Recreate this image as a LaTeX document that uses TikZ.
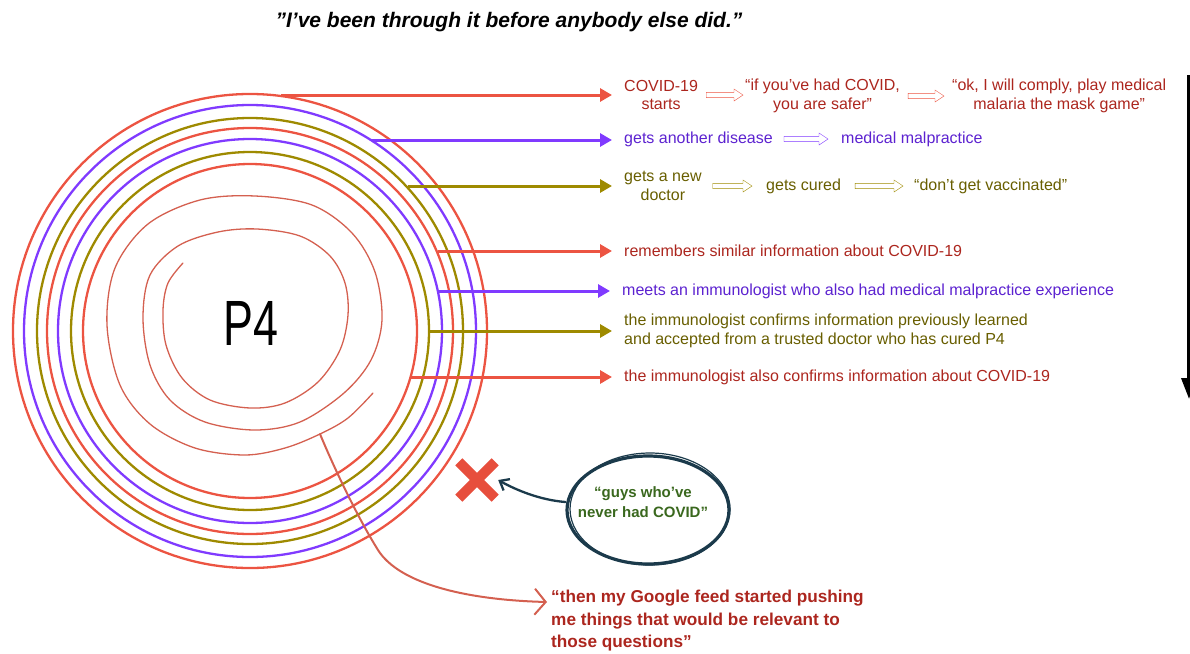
\documentclass[tikz,border=0pt]{standalone}
\usepackage{fontspec}
\setmainfont{Liberation Sans}
\usetikzlibrary{arrows.meta,calc,shapes.geometric}

\definecolor{ringred}{RGB}{236,84,66}
\definecolor{ringpurple}{RGB}{128,58,255}
\definecolor{ringolive}{RGB}{158,138,0}
\definecolor{txtred}{RGB}{172,38,30}
\definecolor{txtpurple}{RGB}{92,34,208}
\definecolor{txtolive}{RGB}{104,94,0}
\definecolor{spiralred}{RGB}{212,96,80}
\definecolor{navy}{RGB}{27,58,75}
\definecolor{leaf}{RGB}{58,104,30}
\definecolor{crossred}{RGB}{231,78,60}

\begin{document}
\begin{tikzpicture}[x=1pt,y=-1pt,
  ring/.style={line width=2.3pt},
  feed/.style={line width=3pt, -{Triangle[length=12pt,width=13pt]}, shorten >=12pt},
  rowtxt/.style={inner sep=0pt, font=\fontsize{16}{18.5}\selectfont},
  hollow/.style 2 args={line width=1.6pt, to path={let \p1=(\tikztostart), \p2=(\tikztotarget) in
     (\x1+#1,\y1+2.6pt) -- (\x2-#2-9pt,\y1+2.6pt) -- (\x2-#2-9pt,\y1+6pt) -- (\x2-#2,\y1)
     -- (\x2-#2-9pt,\y1-6pt) -- (\x2-#2-9pt,\y1-2.6pt) -- (\x1+#1,\y1-2.6pt) -- cycle}},
  sketch/.style={line width=1.3pt, spiralred, line cap=round, line join=round},
]
\useasboundingbox (0,0) rectangle (1190,653);

% title
\node[inner sep=0pt, font=\fontsize{21}{24}\bfseries\itshape\selectfont] (title) at (509,22)
  {"I’ve been through it before anybody else did.”};

% concentric rings, outermost first
\coordinate (c) at (250,331);
\draw[ring, ringred]    (c) circle[radius=237];
\draw[ring, ringpurple] (c) circle[radius=226];
\draw[ring, ringolive]  (c) circle[radius=213];
\draw[ring, ringred]    (c) circle[radius=203];
\draw[ring, ringpurple] (c) circle[radius=192];
\draw[ring, ringolive]  (c) circle[radius=179];
\draw[ring, ringred]    (c) circle[radius=167];

% hand drawn spiral in the middle
\draw[sketch] plot[smooth, tension=0.55] coordinates {
  (373,393) (348,418) (320,434) (285,448) (245,455) (195,448) (150,424) (120,385)
  (107,325) (115,268) (148,224) (200,200) (255,196) (312,205) (352,233) (375,272)
  (382,320) (371,360) (344,393) (300,422) (255,430) (205,422) (170,400) (150,365)
  (143,318) (150,275) (178,246) (218,232) (257,229) (300,236) (330,256) (345,283)
  (348,315) (340,350) (318,382) (285,403) (250,408) (210,400) (182,378) (166,345)
  (163,310) (168,283) (183,263)};

\node[inner sep=0pt, font=\fontsize{64}{64}\selectfont] (p4) at (251,323) {\scalebox{0.7}[1]{P4}};

% points where the feeds leave the rings
\coordinate (r1) at (281,95);
\coordinate (r2) at (372,140);
\coordinate (r3) at (408,186);
\coordinate (r4) at (438,251);
\coordinate (r5) at (439,291);
\coordinate (r6) at (429,331);
\coordinate (r7) at (411,377);

% row 1
\node[rowtxt, txtred, align=center, anchor=west] (c1) at (624,95) {COVID-19\\starts};
\node[rowtxt, txtred, align=center, anchor=west] (c2) at (745,96) {“if you’ve had COVID,\\you are safer”};
\node[rowtxt, txtred, align=center, anchor=west] (c3) at (952,96) {“ok, I will comply, play medical\\malaria the mask game”};
% row 2
\node[rowtxt, txtpurple, anchor=west] (d1) at (624,139) {gets another disease};
\node[rowtxt, txtpurple, anchor=west] (d2) at (841,139) {medical malpractice};
% row 3
\node[rowtxt, txtolive, align=center, anchor=west] (e1) at (624,186) {gets a new\\doctor};
\node[rowtxt, txtolive, anchor=west] (e2) at (766,186) {gets cured};
\node[rowtxt, txtolive, anchor=west] (e3) at (914,186) {“don’t get vaccinated”};
% rows 4 to 7
\node[rowtxt, txtred, anchor=west] (f1) at (624,251) {remembers similar information about COVID-19};
\node[rowtxt, txtpurple, anchor=west] (g1) at (622,291) {meets an immunologist who also had medical malpractice experience};
\node[rowtxt, txtolive, align=left, anchor=west] (h1) at (624,331)
  {the immunologist confirms information previously learned\\and accepted from a trusted doctor who has cured P4};
\node[rowtxt, txtred, anchor=west] (i1) at (624,377) {the immunologist also confirms information about COVID-19};

% feeds from the rings to the rows
\draw[feed, ringred]    (r1) -- (r1 -| c1.west);
\draw[feed, ringpurple] (r2) -- (r2 -| d1.west);
\draw[feed, ringolive]  (r3) -- (r3 -| e1.west);
\draw[feed, ringred]    (r4) -- (r4 -| f1.west);
\draw[feed, ringpurple] (r5) -- (r5 -| g1.west);
\draw[feed, ringolive]  (r6) -- (r6 -| h1.west);
\draw[feed, ringred]    (r7) -- (r7 -| i1.west);

% outlined arrows inside the rows
\draw[ringred]    (c1.east) to[hollow={8pt}{2pt}] (c2.west);
\draw[ringred]    (c2.east) to[hollow={8pt}{8pt}] (c3.west);
\draw[ringpurple] (d1.east) to[hollow={11pt}{13pt}] (d2.west);
\draw[ringolive]  (e1.east) to[hollow={11pt}{14pt}] (e2.west);
\draw[ringolive]  (e2.east) to[hollow={14pt}{11pt}] (e3.west);

% time arrow on the right
\coordinate (ttop) at (1189,75);
\coordinate (tbot) at (1189,399);
\draw[line width=3.6pt, -{Triangle[length=21pt,width=15pt]}] (ttop) -- (tbot);

% red cross and speech bubble
\node[minimum size=36pt, inner sep=0pt] (cross) at (477,480) {};
\draw[crossred, line width=10pt] (cross.north west) -- (cross.south east)
                                 (cross.north east) -- (cross.south west);

\node[ellipse, draw=navy, line width=3.2pt, minimum width=162pt, minimum height=108pt, inner sep=0pt]
  (bubble) at (648,510) {};
\draw[navy, line width=1.2pt] (650,509) ellipse [x radius=80, y radius=56];
\node[inner sep=0pt, leaf, align=center, font=\fontsize{15}{20}\bfseries\selectfont] (bubtxt) at (643,502)
  {“guys who’ve\\never had COVID”};

\draw[navy, line width=2.3pt, line cap=round, -{Straight Barb[length=8pt,width=13pt]}]
  ([yshift=8pt]bubble.west) .. controls (540,500) and (516,490) .. ([xshift=3pt]cross.east);

% quote at the bottom and its connector from the spiral
\node[inner sep=0pt, txtred, align=left, anchor=north west, font=\fontsize{17.2}{22.5}\bfseries\selectfont]
  (quote) at (551,590)
  {“then my Google feed started pushing\\me things that would be relevant to\\those questions”};
\coordinate (sfoot) at (320,434);
\coordinate (sbend) at (378,550);
\draw[spiralred, line width=2pt, line cap=round, -{Straight Barb[length=11pt,width=26pt,line width=2pt]}]
  (sfoot) .. controls (335,470) and (358,518) .. (sbend)
  .. controls (400,585) and (470,600) .. ([shift={(-4,12)}]quote.north west);
\end{tikzpicture}
\end{document}
